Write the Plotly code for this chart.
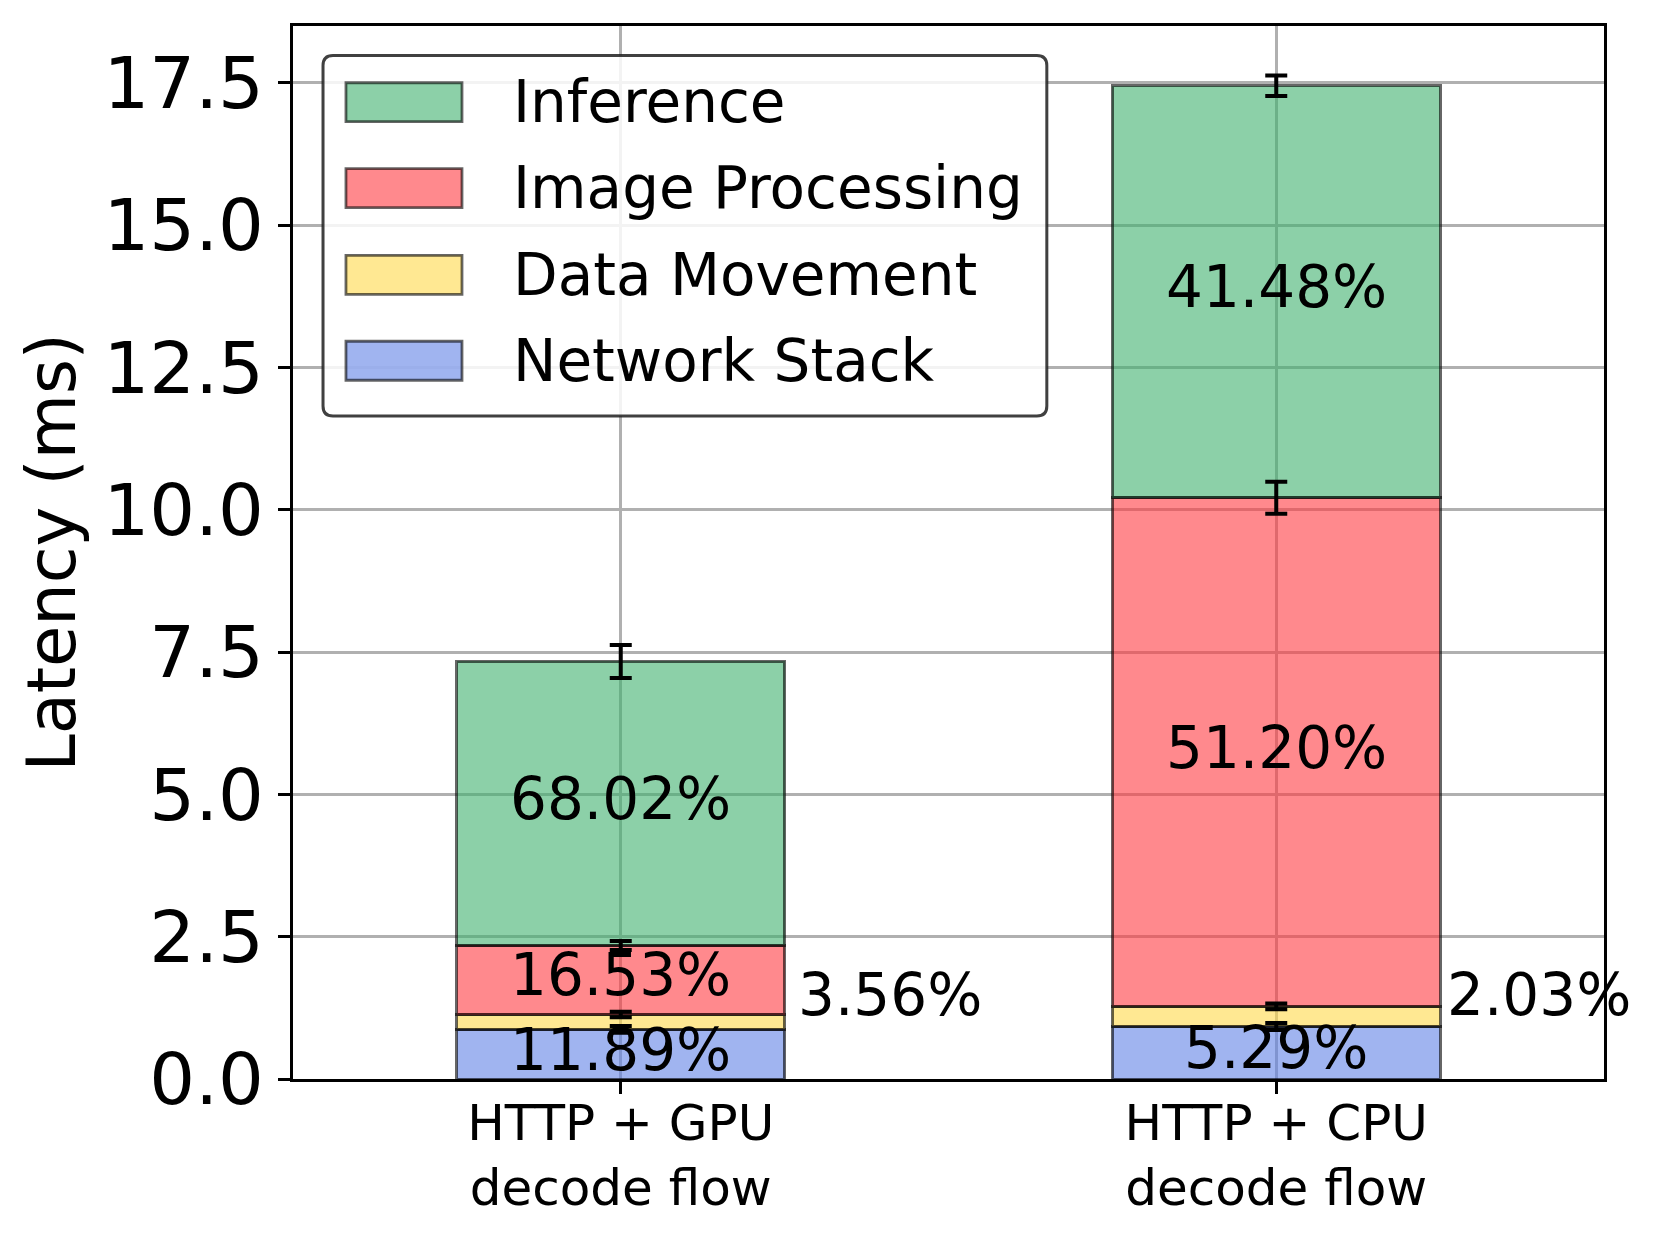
import plotly.graph_objects as go

# ---------------- data ----------------
categories = ["HTTP + GPU<br>decode flow", "HTTP + CPU<br>decode flow"]
components = ["Network Stack", "Data Movement", "Image Processing", "Inference"]

network_ms = [0.872, 0.923]
data_ms = [0.261, 0.354]
image_ms = [1.213, 8.934]
inference_ms = [4.990, 7.238]

network_err = [0.06, 0.06]
data_err = [0.05, 0.05]
image_err = [0.08, 0.28]
inference_err = [0.29, 0.18]

network_pct = ["11.89%", "5.29%"]
data_pct = ["3.56%", "2.03%"]
image_pct = ["16.53%", "51.20%"]
inference_pct = ["68.02%", "41.48%"]

y_tick_vals = [0.0, 2.5, 5.0, 7.5, 10.0, 12.5, 15.0, 17.5]

# ---------------- styling ----------------
FONT = "DejaVu Sans"
colors = {
    "Network Stack": "rgba(97,130,230,0.6)",
    "Data Movement": "rgba(255,217,73,0.6)",
    "Image Processing": "rgba(255,58,65,0.6)",
    "Inference": "rgba(63,177,110,0.6)",
}
edge = "rgba(0,0,0,0.6)"
outside_label_dx = [0.268, 0.258]
outside_label_y = 1.47
series = {
    "Network Stack": (network_ms, network_err, network_pct),
    "Data Movement": (data_ms, data_err, data_pct),
    "Image Processing": (image_ms, image_err, image_pct),
    "Inference": (inference_ms, inference_err, inference_pct),
}
xpos = list(range(len(categories)))

fig = go.Figure()
for name in components:
    vals, _, _ = series[name]
    fig.add_trace(go.Bar(
        x=xpos, y=vals, name=name, width=0.5,
        marker=dict(color=colors[name], line=dict(color=edge, width=2.8)),
        showlegend=False,
    ))

# error bars at the top of each stacked segment, drawn above all bars
annotations = []
bottoms = [0.0] * len(categories)
for name in components:
    vals, errs, labels = series[name]
    tops = [b + v for b, v in zip(bottoms, vals)]
    fig.add_trace(go.Scatter(
        x=xpos, y=tops, mode="markers", marker=dict(opacity=0, size=1),
        error_y=dict(type="data", array=errs, visible=True,
                     color="black", thickness=4, width=11),
        showlegend=False, hoverinfo="skip",
    ))
    for i, (v, lab) in enumerate(zip(vals, labels)):
        mid = bottoms[i] + v / 2
        if name == "Data Movement":
            annotations.append(dict(
                x=xpos[i] + outside_label_dx[i], y=outside_label_y,
                xref="x", yref="y", text=lab,
                showarrow=False, xanchor="left", yanchor="middle",
                font=dict(family=FONT, size=58, color="black")))
        else:
            annotations.append(dict(
                x=xpos[i], y=mid + 0.08, xref="x", yref="y", text=lab,
                showarrow=False, xanchor="center", yanchor="middle",
                font=dict(family=FONT, size=58, color="black")))
    bottoms = tops

# y-axis title
annotations.append(dict(
    x=-0.1845, y=0.5, xref="paper", yref="paper", text="Latency (ms)",
    textangle=-90, showarrow=False, xanchor="center", yanchor="middle",
    font=dict(family=FONT, size=67, color="black")))

# custom legend (matplotlib style, upper left)
shapes = []
bx0, bx1, by0, by1 = 0.0229, 0.575, 0.6296, 0.972
rx, ry = 0.0076, 0.0095
path = (f"M {bx0+rx},{by0} L {bx1-rx},{by0} Q {bx1},{by0} {bx1},{by0+ry} "
        f"L {bx1},{by1-ry} Q {bx1},{by1} {bx1-rx},{by1} "
        f"L {bx0+rx},{by1} Q {bx0},{by1} {bx0},{by1-ry} "
        f"L {bx0},{by0+ry} Q {bx0},{by0} {bx0+rx},{by0} Z")
shapes.append(dict(type="path", path=path, xref="paper", yref="paper",
                   fillcolor="rgba(255,255,255,0.85)",
                   line=dict(color="rgba(30,30,30,0.85)", width=3), layer="above"))
legend_rows = [0.9276, 0.8461, 0.7637, 0.6821]
legend_order = ["Inference", "Image Processing", "Data Movement", "Network Stack"]
for name, yc in zip(legend_order, legend_rows):
    shapes.append(dict(type="rect", xref="paper", yref="paper",
                       x0=0.0404, x1=0.1289, y0=yc - 0.0185, y1=yc + 0.0185,
                       fillcolor=colors[name], line=dict(color=edge, width=2.8),
                       layer="above"))
    annotations.append(dict(x=0.1663, y=yc, xref="paper", yref="paper", text=name,
                            showarrow=False, xanchor="left", yanchor="middle",
                            font=dict(family=FONT, size=58, color="black")))

fig.update_layout(
    width=1643, height=1221,
    margin=dict(l=284.5, r=47, t=17.5, b=150, pad=0, autoexpand=False),
    plot_bgcolor="white", paper_bgcolor="white",
    barmode="stack",
    font=dict(family=FONT, color="black"),
    annotations=annotations, shapes=shapes,
    showlegend=False,
)
fig.update_xaxes(
    automargin=False,
    range=[-0.5, 1.5], tickmode="array", tickvals=xpos, ticktext=categories,
    showgrid=True, gridcolor="#b0b0b0", gridwidth=2.5,
    showline=True, linecolor="black", linewidth=2.5, mirror=True,
    ticks="outside", ticklen=12, tickwidth=2.5, tickcolor="black",
    ticklabelstandoff=-14,
    tickfont=dict(family=FONT, size=50, color="black"),
    zeroline=False,
)
fig.update_yaxes(
    automargin=False,
    range=[0, 18.5], tickmode="array", tickvals=y_tick_vals,
    ticktext=[f"{v:.1f}" for v in y_tick_vals],
    showgrid=True, gridcolor="#b0b0b0", gridwidth=2.5,
    showline=True, linecolor="black", linewidth=2.5, mirror=True,
    ticks="outside", ticklen=12, tickwidth=2.5, tickcolor="black",
    tickfont=dict(family=FONT, size=72, color="black"),
    zeroline=False,
)

fig.write_html("out.html")
